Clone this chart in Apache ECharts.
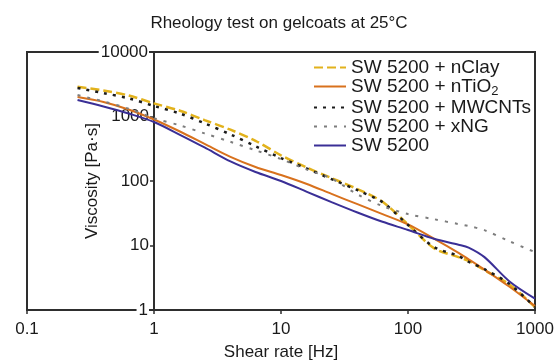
<!DOCTYPE html>
<html>
<head>
<meta charset="utf-8">
<title>Rheology test on gelcoats</title>
<script src="https://cdn.jsdelivr.net/npm/echarts@6/dist/echarts.min.js"></script>
<style>
  html, body { margin: 0; padding: 0; background: #fff; }
  #chart { width: 558px; height: 362px; }
</style>
</head>
<body>
<div id="chart"></div>
<script>
// shear rate [Hz]
const shearRate = [0.25, 0.4, 0.63, 1, 1.6, 2.5, 4, 6.3, 10, 16, 25, 40, 63, 100, 160, 250, 300, 400, 630, 1000]
// viscosity [Pa·s]
const nClay = [2900, 2530, 2120, 1600, 1230, 880, 624, 420, 250, 161, 111, 75, 47.6, 21.2, 9.1, 6.6, 5.75, 4.14, 2.49, 1.11]
const nTiO2 = [2000, 1680, 1285, 898, 585, 377, 237, 165, 124, 90, 63, 43.7, 30.6, 21.2, 12.8, 7.7, 6.1, 4.23, 2.29, 1.15]
const mwcnts = [2770, 2310, 1915, 1455, 1113, 785, 528, 346, 227, 156, 107, 72, 47, 20.8, 9.5, 6.9, 5.6, 4.3, 2.53, 1.11]
const xNG = [2150, 1710, 1325, 942, 728, 547, 405, 299, 219, 150, 109, 62, 40.8, 30.7, 25.6, 21.5, 20, 17.3, 11.6, 7.9]
const sw5200 = [1800, 1430, 1113, 822, 520, 331, 201, 138, 100, 68, 47.1, 32.5, 23.3, 17.4, 12.7, 10.3, 9.3, 6.6, 2.77, 1.5]
const xTicks = [0.1, 1, 10, 100, 1000]
const yTicks = [1, 10, 100, 1000, 10000]

const seriesDefs = [
  { name: 'SW 5200 + nClay', values: nClay, color: '#e2b21c', width: 2.5, type: [9, 4] },
  { name: 'SW 5200 + nTiO2', values: nTiO2, color: '#d8711d', width: 2, type: 'solid' },
  { name: 'SW 5200 + MWCNTs', values: mwcnts, color: '#1c1c1c', width: 2.5, type: [3, 6] },
  { name: 'SW 5200 + xNG', values: xNG, color: '#7d7d7d', width: 2, type: [3, 7] },
  { name: 'SW 5200', values: sw5200, color: '#3a2f96', width: 2, type: 'solid' }
]

const font = 'Liberation Sans, Arial, sans-serif'
const chart = echarts.init(document.getElementById('chart'))

const option = {
  animation: false,
  backgroundColor: '#fff',
  title: {
    text: 'Rheology test on gelcoats at 25°C',
    left: 'center',
    top: 10,
    textStyle: { fontFamily: font, fontSize: 17, fontWeight: 'normal', color: '#1a1a1a' }
  },
  legend: {
    left: 308,
    top: 53,
    orient: 'vertical',
    itemWidth: 32,
    itemHeight: 14,
    itemGap: 0,
    itemStyle: { opacity: 0 },
    data: seriesDefs.map(s => s.name),
    formatter: name => name === 'SW 5200 + nTiO2' ? '{n|SW 5200 + nTiO}{s|2}' : name,
    textStyle: {
      fontFamily: font,
      fontSize: 19,
      color: '#1a1a1a',
      rich: {
        n: { fontFamily: font, fontSize: 19, color: '#1a1a1a' },
        s: { fontFamily: font, fontSize: 13, color: '#1a1a1a', padding: [10, 0, 0, 0] }
      }
    }
  },
  grid: {
    show: true,
    left: 27,
    right: 23,
    top: 52,
    bottom: 52,
    z: 0,
    outerBoundsMode: 'none',
    borderColor: '#2e2e2e',
    borderWidth: 2,
    backgroundColor: 'transparent'
  },
  xAxis: {
    type: 'log',
    logBase: 10,
    min: 0.1,
    max: 1000,
    name: 'Shear rate [Hz]',
    nameLocation: 'middle',
    nameGap: 34,
    nameMoveOverlap: false,
    nameTextStyle: { fontFamily: font, fontSize: 17, color: '#1a1a1a' },
    axisLine: { lineStyle: { color: '#2e2e2e', width: 2 } },
    axisTick: { show: true, length: 4, lineStyle: { color: '#2e2e2e', width: 1.5 } },
    minorTick: { show: false },
    splitLine: { show: false },
    axisLabel: {
      fontFamily: font,
      fontSize: 17,
      color: '#1a1a1a',
      margin: 11,
      formatter: v => {
        const t = xTicks.find(k => Math.abs(k - v) / k < 1e-6)
        return t === undefined ? '' : String(t)
      }
    }
  },
  yAxis: {
    type: 'log',
    logBase: 10,
    min: 1,
    max: 10000,
    offset: -127,
    z: 1,
    name: 'Viscosity [Pa·s]',
    nameLocation: 'middle',
    nameGap: 53,
    nameMoveOverlap: false,
    nameTextStyle: { fontFamily: font, fontSize: 17, color: '#1a1a1a' },
    axisLine: { show: true, lineStyle: { color: '#2e2e2e', width: 2 } },
    axisTick: { show: true, length: 4, lineStyle: { color: '#2e2e2e', width: 1.5 } },
    splitLine: { show: false },
    axisLabel: {
      fontFamily: font,
      fontSize: 17,
      color: '#1a1a1a',
      margin: 5,
      formatter: v => {
        const t = yTicks.find(k => Math.abs(k - v) / k < 1e-6)
        if (t === undefined) return ''
        // end labels sit on the frame lines, so they get a white box
        return (t === 1 || t === 10000) ? '{b|' + t + '}' : String(t)
      },
      rich: {
        b: { fontFamily: font, fontSize: 17, color: '#1a1a1a', backgroundColor: '#fff', padding: [0, 1, 0, 2] }
      }
    }
  },
  series: seriesDefs.map(s => ({
    name: s.name,
    type: 'line',
    z: 2,
    smooth: 0.3,
    symbol: 'none',
    data: shearRate.map((x, i) => [x, s.values[i]]),
    itemStyle: { color: s.color },
    lineStyle: { color: s.color, width: s.width, type: s.type }
  }))
}

chart.setOption(option)
</script>
</body>
</html>
